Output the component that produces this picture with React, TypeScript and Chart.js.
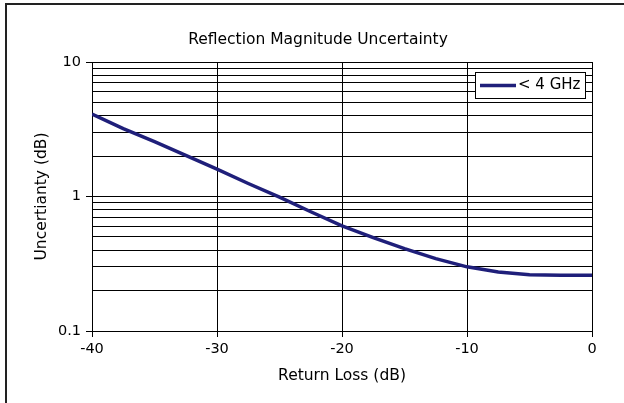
import React, { useEffect, useRef } from "react";
import { Chart, registerables } from "chart.js";

Chart.register(...registerables);

const chartTitle = "Reflection Magnitude Uncertainty";
const xAxisTitle = "Return Loss (dB)";
const yAxisTitle = "Uncertianty (dB)";
const seriesLabel = "< 4 GHz";

const returnLoss = [-40, -37.5, -35, -32.5, -30, -27.5, -25, -22.5, -20, -17.5, -15, -12.5, -10, -7.5, -5, -2.5, 0];
const uncertainty = [4.1, 3.2, 2.56, 2.02, 1.6, 1.25, 0.99, 0.77, 0.605, 0.495, 0.41, 0.345, 0.3, 0.275, 0.262, 0.26, 0.26];

const yGridValues = [0.1, 0.2, 0.3, 0.4, 0.5, 0.6, 0.7, 0.8, 0.9, 1, 2, 3, 4, 5, 6, 7, 8, 9, 10];
const yLabelValues = [0.1, 1, 10];

const FONT = "'DejaVu Sans', Verdana, sans-serif";
const LINE_COLOR = "#1f1f7a";

const framePlugin = {
  id: "frame",
  afterLayout(chart: any) {
    const tb = chart.titleBlock;
    if (tb) {
      tb.left += 44;
    }
  },
  beforeDraw(chart: any) {
    const ctx = chart.ctx;
    ctx.save();
    ctx.fillStyle = "#ffffff";
    ctx.fillRect(0, 0, chart.width, chart.height);
    ctx.fillStyle = "#222222";
    ctx.fillRect(5, 3, chart.width - 5, 2);
    ctx.fillRect(5, 3, 2, chart.height - 3);
    ctx.restore();
  },
};

const legendBoxPlugin = {
  id: "legendBox",
  afterDatasetsDraw(chart: any) {
    const ctx = chart.ctx;
    const ds = chart.data.datasets[0];
    ctx.save();
    const bx = 475.5, by = 72.5, bw = 110, bh = 26;
    ctx.fillStyle = "#ffffff";
    ctx.fillRect(bx, by, bw, bh);
    ctx.strokeStyle = "#000000";
    ctx.lineWidth = 1;
    ctx.strokeRect(bx, by, bw, bh);
    const cy = by + bh / 2;
    ctx.strokeStyle = ds.borderColor;
    ctx.lineWidth = 3.5;
    ctx.beginPath();
    ctx.moveTo(480, cy);
    ctx.lineTo(516, cy);
    ctx.stroke();
    ctx.fillStyle = "#000000";
    ctx.font = `15px ${FONT}`;
    ctx.textBaseline = "middle";
    ctx.textAlign = "left";
    ctx.fillText(ds.label, 518, cy);
    ctx.restore();
  },
};

export default function App() {
  const canvasRef = useRef<HTMLCanvasElement | null>(null);

  useEffect(() => {
    document.body.style.margin = "0";
    const canvas = canvasRef.current;
    if (!canvas) return;
    const chart = new Chart(canvas, {
      type: "line",
      data: {
        datasets: [
          {
            label: seriesLabel,
            data: returnLoss.map((x, i) => ({ x, y: uncertainty[i] })),
            borderColor: LINE_COLOR,
            backgroundColor: LINE_COLOR,
            borderWidth: 3.5,
            pointRadius: 0,
            tension: 0,
            fill: false,
          },
        ],
      },
      options: {
        responsive: false,
        animation: false,
        devicePixelRatio: 1,
        layout: { padding: { left: 0, right: 32, top: 0, bottom: 0 } },
        plugins: {
          legend: { display: false },
          tooltip: { enabled: false },
          title: {
            display: true,
            text: chartTitle,
            color: "#000",
            font: { family: FONT, size: 15.5, weight: "normal" },
            padding: { top: 31, bottom: 12.4 },
          },
        },
        scales: {
          x: {
            type: "linear",
            min: -40,
            max: 0,
            ticks: {
              stepSize: 10,
              color: "#000",
              font: { family: FONT, size: 14.5 },
              padding: 4,
              maxRotation: 0,
              callback: (v: any) => String(v),
            },
            grid: { color: "#000", lineWidth: 1, tickLength: 6, tickColor: "#000" },
            border: { color: "#000", width: 1 },
            title: {
              display: true,
              text: xAxisTitle,
              color: "#000",
              font: { family: FONT, size: 15.5 },
              padding: { top: 0, bottom: 17.7 },
            },
            afterFit: (scale: any) => {
              scale.height = 72;
            },
          },
          y: {
            type: "logarithmic",
            min: 0.1,
            max: 10,
            afterBuildTicks: (scale: any) => {
              scale.ticks = yGridValues.map((v) => ({ value: v, major: yLabelValues.includes(v) }));
            },
            ticks: {
              color: "#000",
              font: { family: FONT, size: 14.5 },
              padding: 5,
              autoSkip: false,
              callback: (v: any) => (yLabelValues.includes(Number(v)) ? String(v) : ""),
            },
            grid: {
              color: "#000",
              lineWidth: 1,
              tickLength: 6,
              tickColor: (ctx: any) =>
                ctx.tick && yLabelValues.includes(ctx.tick.value) ? "#000" : "rgba(0,0,0,0)",
            },
            border: { color: "#000", width: 1 },
            title: {
              display: true,
              text: yAxisTitle,
              color: "#000",
              font: { family: FONT, size: 15.5 },
              padding: { top: 32.2, bottom: 0 },
            },
            afterFit: (scale: any) => {
              scale.width = 92;
            },
          },
        },
      },
      plugins: [framePlugin, legendBoxPlugin],
    } as any);
    return () => chart.destroy();
  }, []);

  return (
    <div style={{ width: 624, height: 403 }}>
      <canvas ref={canvasRef} width={624} height={403} style={{ display: "block" }} />
    </div>
  );
}
